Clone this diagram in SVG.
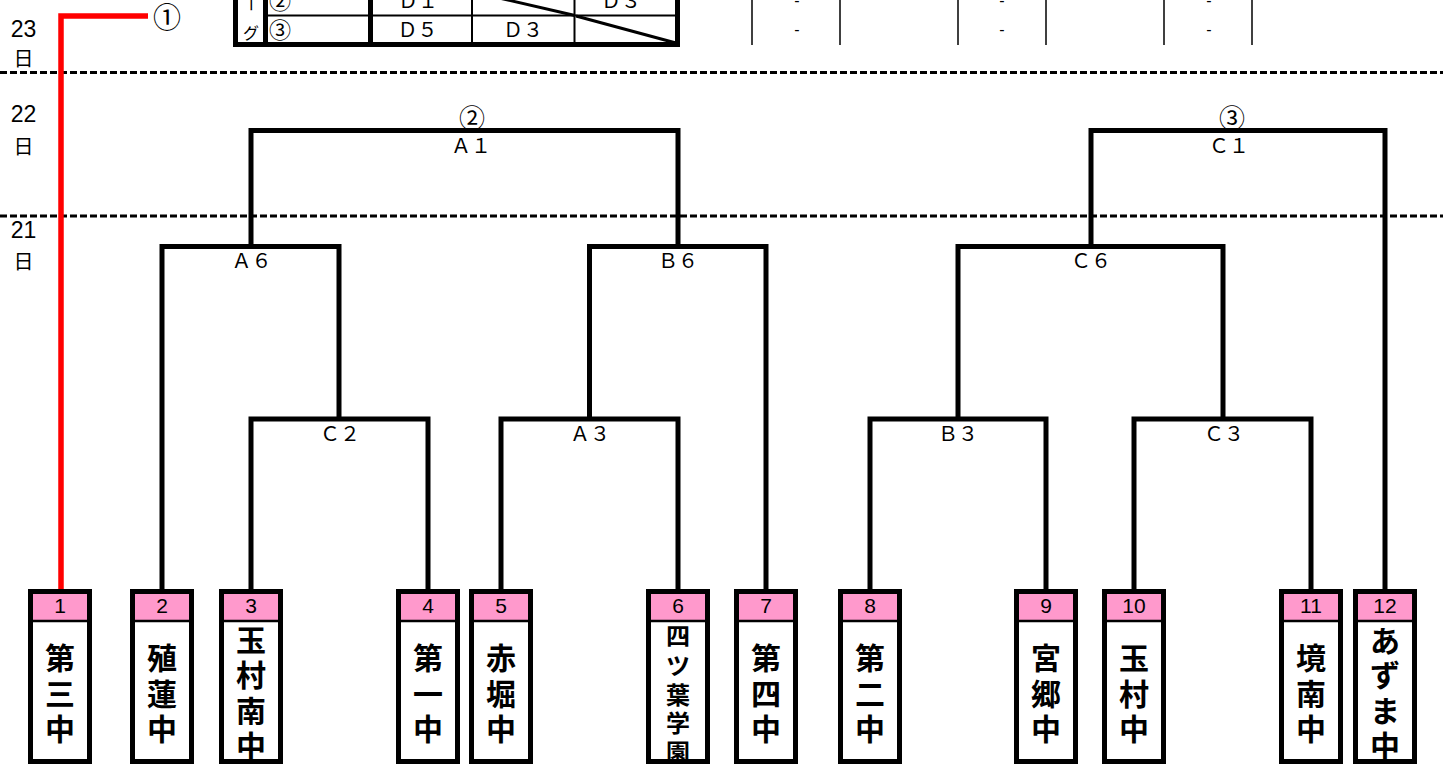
<svg xmlns="http://www.w3.org/2000/svg" width="1443" height="764" viewBox="0 0 1443 764">
<style>
.conn{fill:none;stroke:#000;stroke-width:5;stroke-linejoin:miter}
.red{fill:none;stroke:#ff0000;stroke-width:5.5}
.dash{stroke:#000;stroke-width:3;stroke-dasharray:7 3}
.box{fill:#fff;stroke:#000;stroke-width:5}
.pink{fill:#ff99cc}
.sep{stroke:#000;stroke-width:2.5}
.num{font-family:"Liberation Sans",sans-serif;font-size:21px;text-anchor:middle;fill:#000}
.name{font-family:"Noto Sans CJK JP",sans-serif;font-weight:bold;font-size:30px;text-anchor:middle;dominant-baseline:central;fill:#000}
.name5{font-family:"Noto Sans CJK JP",sans-serif;font-weight:bold;font-size:24px;text-anchor:middle;dominant-baseline:central;fill:#000}
.lbl{font-family:"Noto Sans CJK JP",sans-serif;font-size:20px;text-anchor:middle;fill:#000}
.circ{font-family:"Noto Sans CJK JP",sans-serif;font-size:26px;text-anchor:middle;dominant-baseline:central;fill:#000}
.day{font-family:"Liberation Sans",sans-serif;font-size:23px;text-anchor:middle;fill:#000}
.dayk{font-family:"Noto Sans CJK JP",sans-serif;font-size:20px;text-anchor:middle;dominant-baseline:central;fill:#000}
.thick{stroke:#000;stroke-width:5}
.thin{stroke:#000;stroke-width:2}
.vl{stroke:#000;stroke-width:1.5}
.hy{font-family:"Liberation Sans",sans-serif;font-size:16px;text-anchor:middle;fill:#000}
</style>

<!-- day separators -->
<g id="dividers">
<line class="dash" x1="0" y1="72.5" x2="1443" y2="72.5"/>
<line class="dash" x1="0" y1="216" x2="1443" y2="216"/>
</g>

<!-- day labels -->
<g id="days">
<text class="day" x="23.5" y="37">23</text>
<text class="dayk" x="23.5" y="57.5">日</text>
<text class="day" x="23.5" y="122">22</text>
<text class="dayk" x="23.5" y="145.5">日</text>
<text class="day" x="23.5" y="238">21</text>
<text class="dayk" x="23.5" y="260.5">日</text>
</g>

<!-- league table (partially visible) -->
<g id="league-table">
<line class="thick" x1="235.5" y1="-5" x2="235.5" y2="47"/>
<line class="thick" x1="677.5" y1="-5" x2="677.5" y2="47"/>
<line class="thick" x1="233" y1="44.5" x2="680" y2="44.5"/>
<line class="thick" x1="265.5" y1="-5" x2="265.5" y2="42"/>
<line class="thick" x1="370.5" y1="-5" x2="370.5" y2="42"/>
<line class="thin" x1="472" y1="-5" x2="472" y2="42"/>
<line class="thin" x1="574.5" y1="-5" x2="574.5" y2="42"/>
<line class="thin" x1="268" y1="15.5" x2="675" y2="15.5"/>
<line stroke="#000" stroke-width="3" x1="473" y1="-8" x2="575" y2="15.5"/>
<line stroke="#000" stroke-width="3" x1="576" y1="16" x2="676" y2="43"/>
<text class="lbl" style="font-size:16px" transform="rotate(90 250 4)" x="250" y="9.5">ー</text>
<text class="lbl" style="font-size:16px;dominant-baseline:central" x="251" y="31.5">グ</text>
<text class="circ" style="font-size:22px" x="280" y="-1">②</text>
<text class="circ" style="font-size:22px" x="280" y="28">③</text>
<text class="lbl" x="418" y="8">Ｄ１</text>
<text class="lbl" x="621" y="8">Ｄ３</text>
<text class="lbl" x="417.5" y="37">Ｄ５</text>
<text class="lbl" x="523" y="37">Ｄ３</text>
</g>

<!-- right-side partial table -->
<g id="score-columns">
<line class="vl" x1="752" y1="0" x2="752" y2="45"/>
<line class="vl" x1="840" y1="0" x2="840" y2="45"/>
<line class="vl" x1="958" y1="0" x2="958" y2="45"/>
<line class="vl" x1="1046" y1="0" x2="1046" y2="45"/>
<line class="vl" x1="1164" y1="0" x2="1164" y2="45"/>
<line class="vl" x1="1252" y1="0" x2="1252" y2="45"/>
<text class="hy" x="797" y="6">-</text>
<text class="hy" x="797" y="35">-</text>
<text class="hy" x="1002" y="6">-</text>
<text class="hy" x="1002" y="35">-</text>
<text class="hy" x="1209" y="6">-</text>
<text class="hy" x="1209" y="35">-</text>
</g>

<!-- connectors -->
<g id="connectors">
<path class="red" d="M61 589 V16 H148"/>
<path class="conn" d="M162 589 V246.5 H339 V419"/>
<path class="conn" d="M251 589 V419 H428 V589"/>
<path class="conn" d="M501 589 V419 H678 V589"/>
<path class="conn" d="M589.5 419 V246.5 H766 V589"/>
<path class="conn" d="M251 246.5 V130.5 H678 V246.5"/>
<path class="conn" d="M870 589 V419 H1046 V589"/>
<path class="conn" d="M1134 589 V419 H1311 V589"/>
<path class="conn" d="M958 419 V246.5 H1223 V419"/>
<path class="conn" d="M1091 246.5 V130.5 H1385 V589"/>
</g>

<!-- match labels -->
<g id="match-labels">
<text class="circ" style="font-size:28px" x="167" y="16">①</text>
<text class="circ" x="472" y="116">②</text>
<text class="lbl" x="471" y="153">Ａ１</text>
<text class="circ" x="1232" y="116">③</text>
<text class="lbl" x="1229" y="153">Ｃ１</text>
<text class="lbl" x="251.5" y="268">Ａ６</text>
<text class="lbl" x="678" y="268">Ｂ６</text>
<text class="lbl" x="1091" y="268">Ｃ６</text>
<text class="lbl" x="340" y="441">Ｃ２</text>
<text class="lbl" x="590" y="441">Ａ３</text>
<text class="lbl" x="958" y="441">Ｂ３</text>
<text class="lbl" x="1224" y="441">Ｃ３</text>
</g>

<!-- teams -->
<g id="team1" transform="translate(28,0)">
<rect class="box" x="2.5" y="591.5" width="59" height="170"/><rect class="pink" x="5" y="594" width="54" height="26"/><line class="sep" x1="5" y1="621" x2="59" y2="621"/>
<text class="num" x="32" y="613">1</text>
<text class="name"><tspan x="32" y="656">第</tspan><tspan x="32" y="691.5">三</tspan><tspan x="32" y="727">中</tspan></text>
</g>
<g id="team2" transform="translate(130,0)">
<rect class="box" x="2.5" y="591.5" width="59" height="170"/><rect class="pink" x="5" y="594" width="54" height="26"/><line class="sep" x1="5" y1="621" x2="59" y2="621"/>
<text class="num" x="32" y="613">2</text>
<text class="name"><tspan x="32" y="656">殖</tspan><tspan x="32" y="691.5">蓮</tspan><tspan x="32" y="727">中</tspan></text>
</g>
<g id="team3" transform="translate(219,0)">
<rect class="box" x="2.5" y="591.5" width="59" height="170"/><rect class="pink" x="5" y="594" width="54" height="26"/><line class="sep" x1="5" y1="621" x2="59" y2="621"/>
<text class="num" x="32" y="613">3</text>
<text class="name"><tspan x="32" y="638">玉</tspan><tspan x="32" y="673">村</tspan><tspan x="32" y="709">南</tspan><tspan x="32" y="744">中</tspan></text>
</g>
<g id="team4" transform="translate(396,0)">
<rect class="box" x="2.5" y="591.5" width="59" height="170"/><rect class="pink" x="5" y="594" width="54" height="26"/><line class="sep" x1="5" y1="621" x2="59" y2="621"/>
<text class="num" x="32" y="613">4</text>
<text class="name"><tspan x="32" y="656">第</tspan><tspan x="32" y="691.5">一</tspan><tspan x="32" y="727">中</tspan></text>
</g>
<g id="team5" transform="translate(469,0)">
<rect class="box" x="2.5" y="591.5" width="59" height="170"/><rect class="pink" x="5" y="594" width="54" height="26"/><line class="sep" x1="5" y1="621" x2="59" y2="621"/>
<text class="num" x="32" y="613">5</text>
<text class="name"><tspan x="32" y="656">赤</tspan><tspan x="32" y="691.5">堀</tspan><tspan x="32" y="727">中</tspan></text>
</g>
<g id="team6" transform="translate(646,0)">
<rect class="box" x="2.5" y="591.5" width="59" height="170"/><rect class="pink" x="5" y="594" width="54" height="26"/><line class="sep" x1="5" y1="621" x2="59" y2="621"/>
<text class="num" x="32" y="613">6</text>
<text class="name5"><tspan x="32" y="634">四</tspan><tspan x="32" y="664">ツ</tspan><tspan x="32" y="693">葉</tspan><tspan x="32" y="721">学</tspan><tspan x="32" y="750">園</tspan></text>
</g>
<g id="team7" transform="translate(734,0)">
<rect class="box" x="2.5" y="591.5" width="59" height="170"/><rect class="pink" x="5" y="594" width="54" height="26"/><line class="sep" x1="5" y1="621" x2="59" y2="621"/>
<text class="num" x="32" y="613">7</text>
<text class="name"><tspan x="32" y="656">第</tspan><tspan x="32" y="691.5">四</tspan><tspan x="32" y="727">中</tspan></text>
</g>
<g id="team8" transform="translate(838,0)">
<rect class="box" x="2.5" y="591.5" width="59" height="170"/><rect class="pink" x="5" y="594" width="54" height="26"/><line class="sep" x1="5" y1="621" x2="59" y2="621"/>
<text class="num" x="32" y="613">8</text>
<text class="name"><tspan x="32" y="656">第</tspan><tspan x="32" y="691.5">二</tspan><tspan x="32" y="727">中</tspan></text>
</g>
<g id="team9" transform="translate(1014,0)">
<rect class="box" x="2.5" y="591.5" width="59" height="170"/><rect class="pink" x="5" y="594" width="54" height="26"/><line class="sep" x1="5" y1="621" x2="59" y2="621"/>
<text class="num" x="32" y="613">9</text>
<text class="name"><tspan x="32" y="656">宮</tspan><tspan x="32" y="691.5">郷</tspan><tspan x="32" y="727">中</tspan></text>
</g>
<g id="team10" transform="translate(1102,0)">
<rect class="box" x="2.5" y="591.5" width="59" height="170"/><rect class="pink" x="5" y="594" width="54" height="26"/><line class="sep" x1="5" y1="621" x2="59" y2="621"/>
<text class="num" x="32" y="613">10</text>
<text class="name"><tspan x="32" y="656">玉</tspan><tspan x="32" y="691.5">村</tspan><tspan x="32" y="727">中</tspan></text>
</g>
<g id="team11" transform="translate(1279,0)">
<rect class="box" x="2.5" y="591.5" width="59" height="170"/><rect class="pink" x="5" y="594" width="54" height="26"/><line class="sep" x1="5" y1="621" x2="59" y2="621"/>
<text class="num" x="32" y="613">11</text>
<text class="name"><tspan x="32" y="656">境</tspan><tspan x="32" y="691.5">南</tspan><tspan x="32" y="727">中</tspan></text>
</g>
<g id="team12" transform="translate(1353,0)">
<rect class="box" x="2.5" y="591.5" width="59" height="170"/><rect class="pink" x="5" y="594" width="54" height="26"/><line class="sep" x1="5" y1="621" x2="59" y2="621"/>
<text class="num" x="32" y="613">12</text>
<text class="name"><tspan x="32" y="639">あ</tspan><tspan x="32" y="673">ず</tspan><tspan x="32" y="709">ま</tspan><tspan x="32" y="744">中</tspan></text>
</g>
</svg>
